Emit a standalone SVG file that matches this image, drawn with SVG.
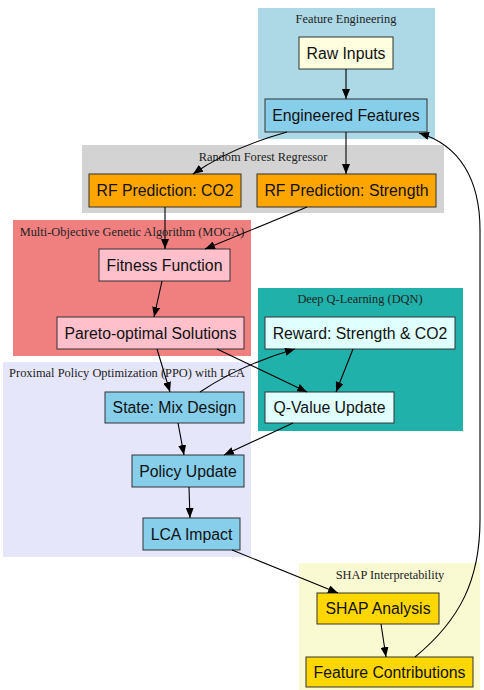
<svg xmlns="http://www.w3.org/2000/svg" width="484" height="690" viewBox="0 0 484 690">
<style>
.node rect{stroke:#333;stroke-width:1}
.node text{font-family:"Liberation Sans",Arial,sans-serif;font-size:15.8px;fill:#111;text-anchor:middle;dominant-baseline:central}
.ct{font-family:"Liberation Serif","Times New Roman",serif;font-size:12.4px;fill:#222;text-anchor:middle}
.e{fill:none;stroke:#000;stroke-width:1.1;marker-end:url(#ah)}
</style>
<defs>
<marker id="ah" viewBox="0 0 10 8" refX="10" refY="4" markerWidth="10" markerHeight="8" markerUnits="userSpaceOnUse" orient="auto">
<path d="M0,0 L10,4 L0,8 z" fill="#000"/>
</marker>
</defs>
<rect width="484" height="690" fill="#fff"/>
<g id="clusters">
<rect x="258" y="8" width="177" height="131" fill="#add8e6"/>
<text class="ct" x="346" y="23">Feature Engineering</text>
<rect x="82" y="145" width="362" height="68" fill="#d3d3d3"/>
<text class="ct" x="263" y="161">Random Forest Regressor</text>
<rect x="13" y="220" width="238" height="136" fill="#f08080"/>
<text class="ct" x="132" y="236">Multi-Objective Genetic Algorithm (MOGA)</text>
<rect x="258" y="288" width="205" height="143" fill="#20b2aa"/>
<text class="ct" x="360" y="303">Deep Q-Learning (DQN)</text>
<rect x="3" y="362" width="248" height="195" fill="#e6e6fa"/>
<text class="ct" x="127" y="377">Proximal Policy Optimization (PPO) with LCA</text>
<rect x="299" y="563" width="181" height="127" fill="#fafad2"/>
<text class="ct" x="390" y="579">SHAP Interpretability</text>
</g>
<g id="n-raw" class="node"><rect x="299" y="37" width="94" height="32" fill="#ffffe0"/><text x="346" y="53">Raw Inputs</text></g>
<g id="n-eng" class="node"><rect x="265" y="99" width="162" height="33" fill="#87ceeb"/><text x="346" y="115.5">Engineered Features</text></g>
<g id="n-rfco2" class="node"><rect x="89" y="174" width="152" height="33" fill="#ffa500"/><text x="165" y="190.5">RF Prediction: CO2</text></g>
<g id="n-rfstr" class="node"><rect x="257" y="174" width="179" height="33" fill="#ffa500"/><text x="346.5" y="190.5">RF Prediction: Strength</text></g>
<g id="n-fit" class="node"><rect x="99" y="249" width="131" height="32" fill="#ffc0cb"/><text x="164.5" y="265">Fitness Function</text></g>
<g id="n-pareto" class="node"><rect x="57" y="317" width="187" height="32" fill="#ffc0cb"/><text x="150.5" y="333">Pareto-optimal Solutions</text></g>
<g id="n-reward" class="node"><rect x="265" y="317" width="190" height="32" fill="#e0ffff"/><text x="360" y="333">Reward: Strength &amp; CO2</text></g>
<g id="n-qval" class="node"><rect x="265" y="392" width="129" height="31" fill="#e0ffff"/><text x="329.5" y="407.5">Q-Value Update</text></g>
<g id="n-state" class="node"><rect x="105" y="392" width="139" height="31" fill="#87ceeb"/><text x="174.5" y="407.5">State: Mix Design</text></g>
<g id="n-policy" class="node"><rect x="132" y="455" width="112" height="32" fill="#87ceeb"/><text x="188" y="471">Policy Update</text></g>
<g id="n-lca" class="node"><rect x="143" y="518" width="97" height="32" fill="#87ceeb"/><text x="191.5" y="534">LCA Impact</text></g>
<g id="n-shap" class="node"><rect x="317" y="593" width="122" height="31" fill="#ffd700"/><text x="378" y="608.5">SHAP Analysis</text></g>
<g id="n-contrib" class="node"><rect x="306" y="657" width="167" height="30" fill="#ffd700"/><text x="389.5" y="672">Feature Contributions</text></g>
<g id="edges">
<path class="e" d="M346,69 L346,99"/>
<path class="e" d="M287,132 Q230,148 193,174"/>
<path class="e" d="M346,132 L346,174"/>
<path class="e" d="M165,207 L165,249"/>
<path class="e" d="M307,207 L205,249"/>
<path class="e" d="M162,281 L154,317"/>
<path class="e" d="M157,349 L170,392"/>
<path class="e" d="M217,349 L307,392"/>
<path class="e" d="M200,392 Q240,365 295,349"/>
<path class="e" d="M353,349 L336,392"/>
<path class="e" d="M293,423 L224,455"/>
<path class="e" d="M178,423 L184,455"/>
<path class="e" d="M189,487 L190,518"/>
<path class="e" d="M232,550 L338,593"/>
<path class="e" d="M381,624 L386,657"/>
<path class="e" d="M415,657 C460,620 480,580 480,520 L480,230 C480,180 460,145 419,133"/>
</g>
</svg>
